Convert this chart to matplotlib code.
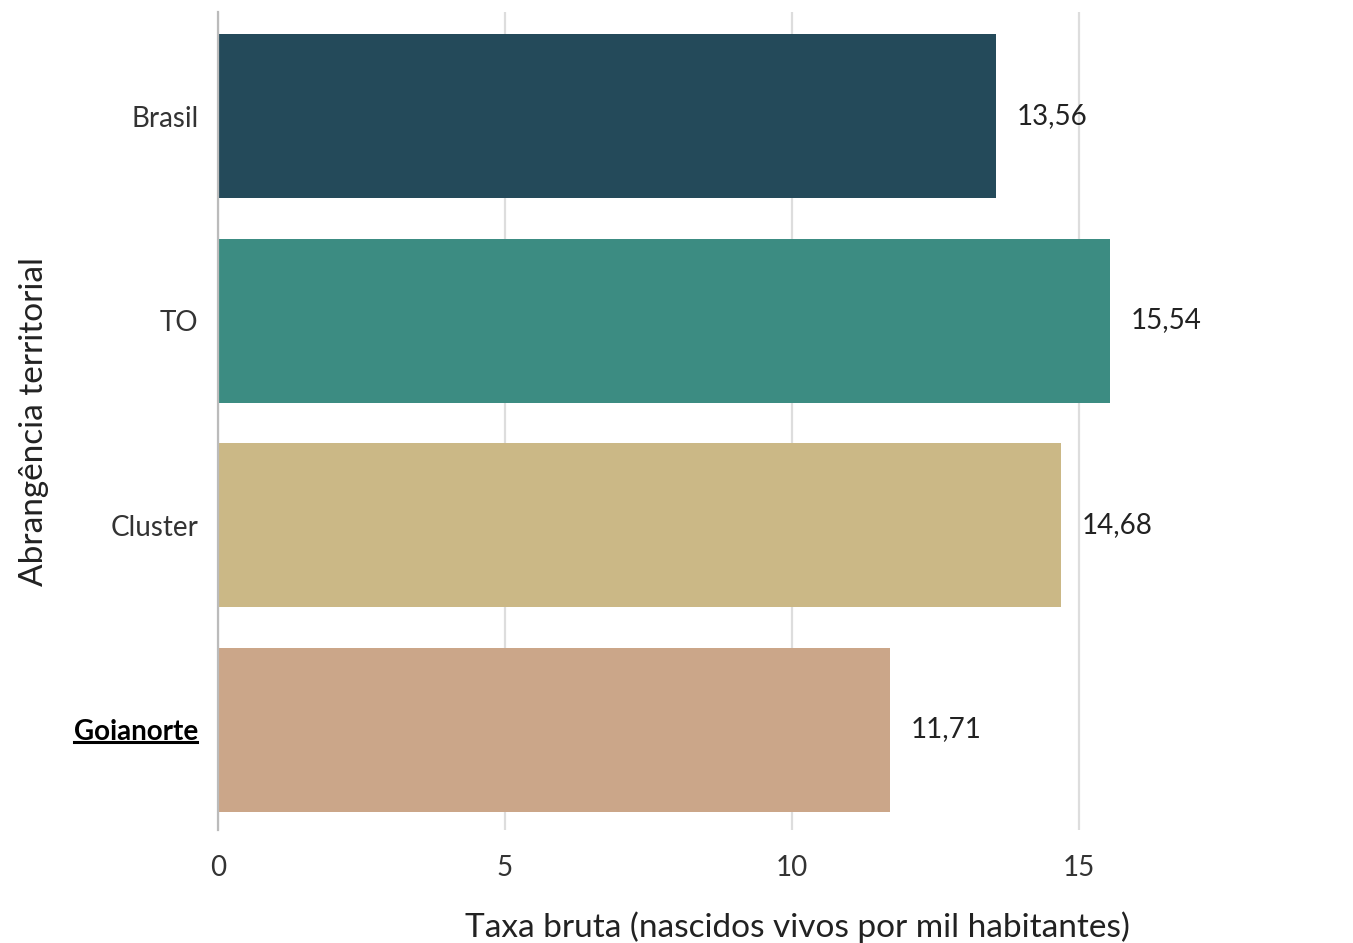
import matplotlib.pyplot as plt
from matplotlib.lines import Line2D

categorias = ['Brasil', 'TO', 'Cluster', 'Goianorte']
valores = [13.56, 15.54, 14.68, 11.71]
cores = ['#244a5a', '#3c8c82', '#cbb886', '#cba689']
destaque = 'Goianorte'

plt.rcParams['font.family'] = ['Lato', 'DejaVu Sans']

fig = plt.figure(figsize=(13.53, 9.43), dpi=100)
ax = fig.add_axes([0.1611, 0.1198, 0.8315, 0.8675])

pos = list(range(len(categorias)))
ax.barh(pos, valores, height=0.8, color=cores, zorder=2)

for p, v in zip(pos, valores):
    ax.annotate(f'{v:.2f}'.replace('.', ','), (v, p), xytext=(15, 0.5),
                textcoords='offset points', va='center', ha='left',
                fontsize=20, color='#222222')

ax.set_xlim(0, 19.6)
ax.set_ylim(3.49, -0.51)
ax.set_xticks([0, 5, 10, 15])
ax.set_xticklabels(['0', '5', '10', '15'])
ax.set_yticks(pos)
ax.set_yticklabels(categorias)
ax.tick_params(axis='both', length=0, labelsize=20, colors='#333333')
ax.tick_params(axis='y', pad=14)
ax.tick_params(axis='x', pad=18)

ax.grid(axis='x', color='#dddddd', linewidth=1.6, zorder=0)
for s in ['top', 'right', 'bottom']:
    ax.spines[s].set_visible(False)
ax.spines['left'].set_color('#bbbbbb')
ax.spines['left'].set_linewidth(1.6)
ax.spines['left'].set_zorder(3)

ax.set_xlabel('Taxa bruta (nascidos vivos por mil habitantes)', fontsize=24,
              color='#222222')
ax.set_ylabel('Abrangência territorial', fontsize=24, color='#222222',
              labelpad=18)
ax.xaxis.set_label_coords(0.515, -0.099)

# destaque em negrito e sublinhado
lab_dest = None
for lab in ax.get_yticklabels():
    if lab.get_text() == destaque:
        lab.set_fontweight('bold')
        lab.set_color('black')
        lab_dest = lab

fig.canvas.draw()
bb = lab_dest.get_window_extent().transformed(fig.transFigure.inverted())
y_line = bb.y0 + 0.004
x_end = bb.x1 - 2.0 / fig.bbox.width
fig.add_artist(Line2D([bb.x0, x_end], [y_line, y_line], color='black',
                      linewidth=2.2, transform=fig.transFigure))

fig.savefig('out.png', dpi=100)
